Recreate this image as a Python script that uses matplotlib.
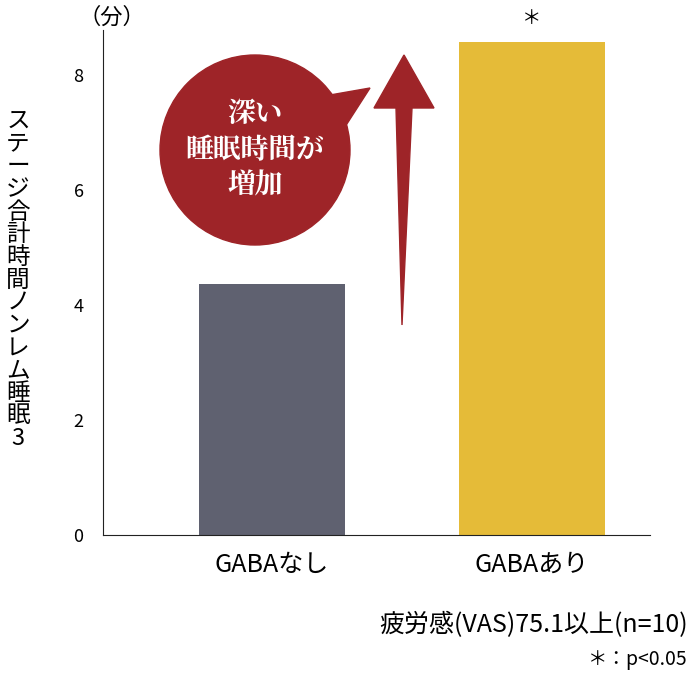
import matplotlib
matplotlib.use("Agg")
import matplotlib.pyplot as plt
from matplotlib.patches import Circle, Polygon

plt.rcParams['font.family'] = ['Noto Sans CJK JP', 'DejaVu Sans']

categories = ["GABAなし", "GABAあり"]
values = [4.37, 8.57]
colors = ["#5f6170", "#e5bb38"]
yticks = [0, 2, 4, 6, 8]
RED = "#9e2428"

fig = plt.figure(figsize=(6.94, 6.78), dpi=100)
ax = fig.add_axes([103 / 694, 1 - 535 / 678, 547 / 694, 505 / 678])
ax.bar(range(len(categories)), values, width=0.558, color=colors)
ax.set_xlim(-0.65, 1.454)
ax.set_ylim(0, 8.78)
ax.set_yticks(yticks)
ax.set_xticks(range(len(categories)))
ax.set_xticklabels(categories, fontsize=18)
ax.tick_params(axis="y", labelsize=13, length=0, pad=14)
ax.tick_params(axis="x", length=0, pad=12)
for s in ["top", "right"]:
    ax.spines[s].set_visible(False)
ax.spines["left"].set_color("#222")
ax.spines["bottom"].set_color("#222")

# overlay in pixel coordinates for the callout
ov = fig.add_axes([0, 0, 1, 1])
ov.set_xlim(0, 694)
ov.set_ylim(678, 0)
ov.axis("off")
ov.add_patch(Circle((255, 150), 95, color=RED))
ov.add_patch(Polygon([[330, 95], [370, 88], [343, 130]], color=RED))
ov.add_patch(Polygon([[402, 325], [396, 108], [374, 108], [404, 55],
                      [434, 108], [412, 108]], color=RED))
ov.text(255, 150, "深い\n睡眠時間が\n増加", color="white", fontsize=20,
        fontweight="bold", ha="center", va="center", linespacing=1.3,
        family=['Noto Serif CJK JP', 'Noto Sans CJK JP'])

fig.text(18 / 694, 1 - 280 / 678, "\n".join("ステージ合計時間ノンレム睡眠3"),
         fontsize=17, ha="center", va="center", linespacing=0.98)
fig.text(112 / 694, 1 - 17 / 678, "（分）", fontsize=16, ha="center", va="center")
fig.text(532 / 694, 1 - 18 / 678, "＊", fontsize=14, ha="center", va="center")
fig.text(688 / 694, 1 - 625 / 678, "疲労感(VAS)75.1以上(n=10)", fontsize=18,
         ha="right", va="center")
fig.text(688 / 694, 1 - 660 / 678, "＊：p<0.05", fontsize=14, ha="right", va="center")

fig.savefig("out.png", dpi=100)
